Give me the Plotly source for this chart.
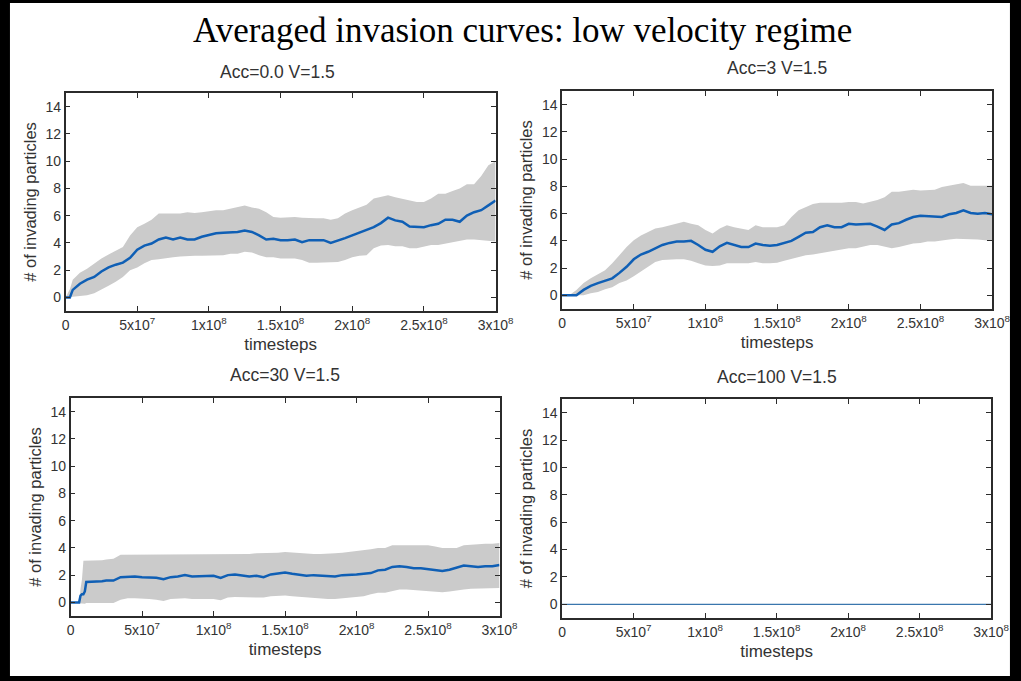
import plotly.graph_objects as go

# ---------------- data (timesteps in units of 1e6) ----------------
T_A0 = [0, 3, 5, 10, 15, 20, 25, 30, 35, 40, 45, 50, 55, 60, 65, 70, 75, 80, 85, 90, 95, 100,
        105, 110, 115, 120, 125, 130, 135, 140, 145, 150, 155, 160, 165, 170, 175, 180, 185, 190, 195, 200,
        205, 210, 215, 220, 225, 230, 235, 240, 245, 250, 255, 260, 265, 270, 275, 280, 285, 290, 295, 300]
MEAN_A0 = [0, 0, 0.55, 1.0, 1.3, 1.5, 1.9, 2.2, 2.4, 2.55, 2.9, 3.5, 3.8, 3.95, 4.25, 4.4, 4.25, 4.4, 4.25, 4.25, 4.45, 4.6,
           4.7, 4.75, 4.75, 4.8, 4.9, 4.8, 4.55, 4.25, 4.3, 4.2, 4.2, 4.25, 4.05, 4.2, 4.2, 4.2, 4.0, 4.15, 4.35, 4.55,
           4.75, 4.9, 5.15, 5.45, 5.85, 5.65, 5.55, 5.2, 5.15, 5.15, 5.3, 5.4, 5.7, 5.7, 5.55, 6.0, 6.25, 6.4, 6.75, 7.1]
UP_A0 = [0, 0.6, 1.3, 1.8, 2.1, 2.5, 2.85, 3.15, 3.45, 3.7, 4.55, 5.15, 5.4, 5.7, 6.15, 6.15, 6.15, 6.15, 6.25, 6.2, 6.25, 6.35,
         6.4, 6.4, 6.5, 6.6, 6.75, 6.6, 6.5, 6.25, 5.9, 5.85, 5.9, 5.9, 5.85, 5.8, 5.8, 5.8, 5.7, 5.8, 6.15, 6.4,
         6.6, 6.8, 7.25, 7.4, 7.5, 7.35, 7.25, 7.1, 7.0, 7.0, 7.25, 7.6, 7.6, 7.8, 8.0, 8.3, 8.3, 8.9, 9.7, 10.0]
LO_A0 = [0, 0, 0.05, 0.1, 0.15, 0.3, 0.55, 0.85, 1.15, 1.5, 2.0, 2.2, 2.5, 2.75, 2.8, 2.9, 2.95, 3.0, 3.05, 3.05, 3.05, 3.05,
         3.1, 3.1, 3.2, 3.2, 3.35, 3.3, 3.1, 2.95, 2.95, 2.85, 2.85, 2.85, 2.75, 2.55, 2.55, 2.55, 2.55, 2.6, 2.75, 2.95,
         3.05, 3.1, 3.6, 3.8, 3.85, 3.75, 3.75, 3.6, 3.6, 3.75, 3.85, 3.85, 3.95, 4.1, 4.15, 4.25, 4.25, 4.2, 4.15, 4.1]

T_A3 = [0, 5, 10, 15, 20, 25, 30, 35, 40, 45, 50, 55, 60, 65, 70, 75, 80, 85, 90, 95, 100,
        105, 110, 115, 120, 125, 130, 135, 140, 145, 150, 155, 160, 165, 170, 175, 180, 185, 190, 195, 200,
        205, 210, 215, 220, 225, 230, 235, 240, 245, 250, 255, 260, 265, 270, 275, 280, 285, 290, 295, 300]
MEAN_A3 = [0, 0, 0, 0.4, 0.7, 0.9, 1.1, 1.25, 1.65, 2.1, 2.65, 3.0, 3.2, 3.45, 3.7, 3.85, 3.95, 3.95, 4.0, 3.7, 3.35,
           3.2, 3.6, 3.85, 3.7, 3.55, 3.55, 3.8, 3.7, 3.65, 3.7, 3.85, 4.0, 4.3, 4.6, 4.65, 5.0, 5.15, 5.0, 5.0, 5.25,
           5.2, 5.2, 5.25, 5.05, 4.8, 5.2, 5.3, 5.55, 5.75, 5.85, 5.8, 5.8, 5.75, 5.95, 6.05, 6.25, 6.05, 6.0, 6.05, 5.95]
UP_A3 = [0, 0, 0.4, 0.9, 1.25, 1.55, 1.85, 2.35, 2.95, 3.55, 4.05, 4.4, 4.65, 4.9, 5.0, 5.15, 5.25, 5.4, 5.25, 5.15, 4.8,
         4.55, 4.9, 5.15, 5.0, 4.9, 4.8, 5.15, 5.0, 5.0, 5.0, 5.15, 5.75, 6.25, 6.5, 6.7, 6.8, 6.8, 6.75, 6.8, 6.85,
         6.85, 6.75, 6.85, 7.0, 7.2, 7.6, 7.6, 7.7, 7.75, 7.7, 7.7, 7.75, 7.95, 8.05, 8.2, 8.25, 8.05, 8.05, 8.05, 8.05]
LO_A3 = [0, 0, 0, 0, 0.15, 0.25, 0.45, 0.6, 0.9, 1.1, 1.4, 1.75, 2.15, 2.45, 2.6, 2.65, 2.65, 2.65, 2.55, 2.35, 2.2,
         2.15, 2.2, 2.35, 2.35, 2.3, 2.35, 2.45, 2.35, 2.35, 2.4, 2.55, 2.7, 2.85, 2.95, 3.0, 3.1, 3.2, 3.25, 3.35, 3.45,
         3.45, 3.55, 3.7, 3.7, 3.55, 3.45, 3.55, 3.7, 3.8, 3.85, 3.95, 3.95, 4.05, 4.1, 4.15, 4.15, 4.15, 4.1, 4.05, 4.0]

T_A30 = [0, 6, 7, 8, 9, 10, 11, 15, 20, 22, 25, 30, 35, 40, 45, 50, 55, 60, 65, 70, 75, 80, 85, 90, 95, 100,
         105, 110, 115, 120, 125, 130, 135, 140, 145, 150, 155, 160, 165, 170, 175, 180, 185, 190, 195, 200,
         205, 210, 215, 220, 225, 230, 235, 240, 245, 250, 255, 260, 265, 270, 275, 280, 285, 290, 295, 300]
MEAN_A30 = [0, 0, 0.5, 0.6, 0.6, 0.8, 1.5, 1.5, 1.5, 1.55, 1.6, 1.6, 1.85, 1.9, 1.9, 1.85, 1.85, 1.8, 1.7, 1.85, 1.9, 2.0,
            1.9, 1.9, 1.95, 1.95, 1.8, 2.0, 2.05, 1.95, 1.9, 1.95, 1.85, 2.05, 2.1, 2.2, 2.1, 2.05, 1.95, 2.0, 1.95, 1.95,
            1.9, 2.0, 2.0, 2.05, 2.1, 2.15, 2.35, 2.4, 2.6, 2.65, 2.6, 2.5, 2.5, 2.45, 2.35, 2.3, 2.4, 2.55, 2.7, 2.65,
            2.6, 2.65, 2.65, 2.75]
UP_A30 = [0, 0, 1.0, 1.7, 3.05, 3.05, 3.05, 3.05, 3.1, 3.1, 3.15, 3.2, 3.5, 3.5, 3.5, 3.5, 3.5, 3.5, 3.5, 3.55, 3.55, 3.55,
          3.55, 3.55, 3.55, 3.55, 3.55, 3.55, 3.55, 3.55, 3.55, 3.6, 3.6, 3.6, 3.65, 3.7, 3.65, 3.6, 3.6, 3.55, 3.55, 3.55,
          3.6, 3.65, 3.7, 3.75, 3.85, 3.9, 4.0, 4.0, 4.2, 4.2, 4.2, 4.2, 4.2, 4.2, 4.1, 4.0, 4.0, 4.0, 4.2, 4.25,
          4.3, 4.3, 4.3, 4.35]
LO_A30 = [0, -0.05, -0.05, -0.05, -0.1, -0.1, -0.05, -0.05, -0.05, -0.05, -0.05, -0.05, 0.2, 0.3, 0.3, 0.3, 0.25, 0.2, 0.1,
          0.25, 0.3, 0.3, 0.25, 0.25, 0.25, 0.25, 0.15, 0.35, 0.4, 0.4, 0.35, 0.35, 0.35, 0.45, 0.5, 0.5, 0.45, 0.4, 0.35,
          0.3, 0.25, 0.25, 0.25, 0.3, 0.3, 0.35, 0.45, 0.6, 0.7, 0.7, 0.85, 0.95, 0.95, 0.9, 0.85, 0.8, 0.75, 0.75, 0.8,
          0.9, 0.95, 1.0, 1.0, 1.0, 1.0, 1.05]

T_A100 = [0, 300]
MEAN_A100 = [0, 0]

PANEL_TITLES = ["Acc=0.0 V=1.5", "Acc=3 V=1.5", "Acc=30 V=1.5", "Acc=100 V=1.5"]
MAIN_TITLE = "Averaged invasion curves: low velocity regime"
X_TICKS = [0, 5e7, 1e8, 1.5e8, 2e8, 2.5e8, 3e8]
X_TICKTEXT = ["0", "5x10<sup>7</sup>", "1x10<sup>8</sup>", "1.5x10<sup>8</sup>",
              "2x10<sup>8</sup>", "2.5x10<sup>8</sup>", "3x10<sup>8</sup>"]
Y_TICKS = [0, 2, 4, 6, 8, 10, 12, 14]

# ---------------- figure ----------------
W, H = 1021, 681
WE = 1006  # effective horizontal extent of the plotting region in the rendered page
BLUE = "#0f5fb5"
GRAY = "#cbcbcb"
FRAME = "#2b2b2b"
TXT = "#333333"
SANS = "Liberation Sans, Arial, sans-serif"

# panel boxes in pixels: (left, right, top, bottom)
boxes = [(62, 495, 93, 311), (562, 995, 91, 309), (67, 499, 398, 616), (562, 994, 399, 618)]

def fx(px):
    return px / WE

def fy(py):
    return 1 - py / H

fig = go.Figure()

datasets = [
    (T_A0, MEAN_A0, UP_A0, LO_A0),
    (T_A3, MEAN_A3, UP_A3, LO_A3),
    (T_A30, MEAN_A30, UP_A30, LO_A30),
    (T_A100, MEAN_A100, None, None),
]

for i, (t, mean, up, lo) in enumerate(datasets):
    k = "" if i == 0 else str(i + 1)
    xa, ya = "x" + k, "y" + k
    xs = [v * 1e6 for v in t]
    if up is not None:
        fig.add_trace(go.Scatter(x=xs, y=up, xaxis=xa, yaxis=ya, mode="lines",
                                 line=dict(width=0, color=GRAY), hoverinfo="skip", showlegend=False))
        fig.add_trace(go.Scatter(x=xs, y=lo, xaxis=xa, yaxis=ya, mode="lines", fill="tonexty",
                                 fillcolor=GRAY, line=dict(width=0, color=GRAY),
                                 hoverinfo="skip", showlegend=False))
        fig.add_trace(go.Scatter(x=xs, y=mean, xaxis=xa, yaxis=ya, mode="lines",
                                 line=dict(width=2.5, color=BLUE), showlegend=False))
    else:
        fig.add_trace(go.Scatter(x=xs, y=mean, xaxis=xa, yaxis=ya, mode="lines",
                                 line=dict(width=1.3, color="#3a76ad"), showlegend=False))

axis_common = dict(showline=True, linecolor=FRAME, linewidth=1.5, mirror="ticks",
                   ticks="inside", ticklen=5, tickwidth=1, tickcolor=FRAME,
                   showgrid=False, zeroline=False, tickfont=dict(family=SANS, size=14, color=TXT))

layout = dict(width=W, height=H, margin=dict(l=0, r=0, t=0, b=0),
              paper_bgcolor="black", plot_bgcolor="white", showlegend=False)

for i, (l, r, tp, b) in enumerate(boxes):
    k = "" if i == 0 else str(i + 1)
    layout["xaxis" + k] = dict(axis_common, domain=[fx(l), fx(r)], range=[0, 3e8], anchor="y" + k,
                               tickvals=X_TICKS, ticktext=X_TICKTEXT,
                               title=dict(text="timesteps", font=dict(family=SANS, size=17, color=TXT), standoff=7))
    layout["yaxis" + k] = dict(axis_common, domain=[fy(b), fy(tp)], range=[-1, 15], anchor="x" + k,
                               tickvals=Y_TICKS,
                               title=dict(text="# of invading particles",
                                          font=dict(family=SANS, size=16.5, color=TXT), standoff=5))

fig.update_layout(**layout)

# white page inside the black border
fig.add_shape(type="rect", xref="paper", yref="paper", x0=fx(6), x1=fx(1013), y0=fy(676), y1=fy(3),
              fillcolor="white", line=dict(width=0), layer="below")

# titles
fig.add_annotation(text=MAIN_TITLE, xref="paper", yref="paper", x=fx(522), y=fy(30),
                   showarrow=False, xanchor="center", yanchor="middle",
                   font=dict(family="Liberation Serif, Times New Roman, serif", size=35, color="black"))
title_pos = [(275, 72), (778, 68), (283, 375), (778, 377)]
for txt, (cx, cy) in zip(PANEL_TITLES, title_pos):
    fig.add_annotation(text=txt, xref="paper", yref="paper", x=fx(cx), y=fy(cy),
                       showarrow=False, xanchor="center", yanchor="middle",
                       font=dict(family=SANS, size=17.5, color=TXT))

fig.write_html("out.html")
